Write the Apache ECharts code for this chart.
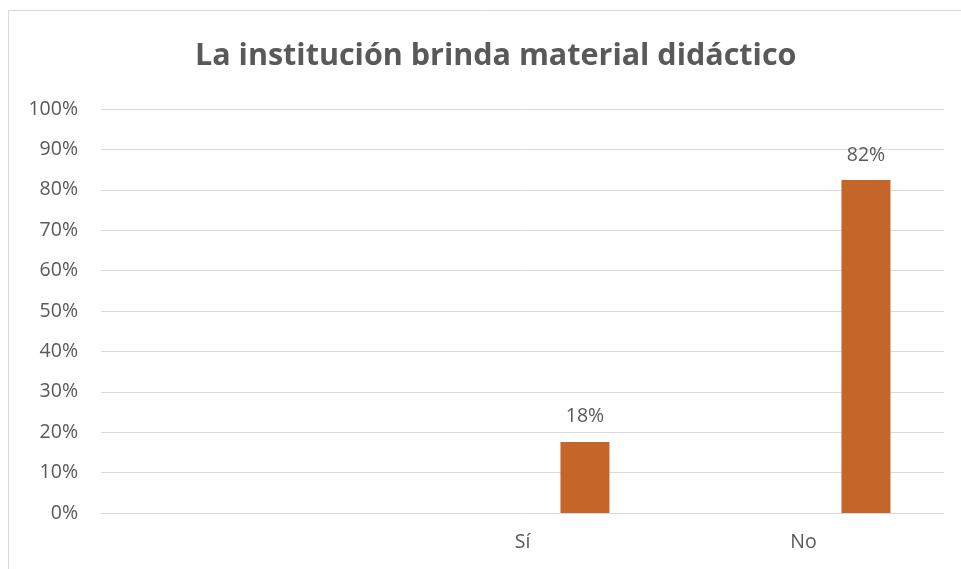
<!DOCTYPE html>
<html>
<head>
<meta charset="utf-8">
<script src="https://cdn.jsdelivr.net/npm/echarts@6/dist/echarts.min.js"></script>
<style>
  html, body { margin: 0; padding: 0; background: #fff; }
  #chart { width: 961px; height: 569px; }
</style>
</head>
<body>
<div id="chart"></div>
<script>
  // empty first slot keeps the bars where the original sheet put them
  const categories = ['', 'Sí', 'No']
  const spacerValues = ['-', '-', '-']
  const percentValues = ['-', 17.6, 82.4]
  const yTicks = [0, 10, 20, 30, 40, 50, 60, 70, 80, 90, 100]

  const textColor = '#595959'
  const font = 'Open Sans'

  const chart = echarts.init(document.getElementById('chart'))
  chart.setOption({
    animation: false,
    title: {
      text: 'La institución brinda material didáctico',
      left: 190,
      top: 36,
      textStyle: {
        fontFamily: font,
        fontSize: 30.5,
        fontWeight: 'bold',
        color: textColor
      }
    },
    graphic: [{
      type: 'rect',
      shape: { x: 8.5, y: 10.5, width: 970, height: 580 },
      style: { fill: 'none', stroke: '#d9d9d9', lineWidth: 1 },
      silent: true
    }],
    grid: {
      left: 101,
      right: 17,
      top: 109,
      bottom: 56
    },
    xAxis: {
      type: 'category',
      data: categories,
      axisLine: { lineStyle: { color: '#d9d9d9' } },
      axisTick: { show: false },
      axisLabel: {
        margin: 19,
        fontFamily: font,
        fontSize: 19.5,
        color: textColor
      }
    },
    yAxis: {
      type: 'value',
      min: yTicks[0],
      max: yTicks[yTicks.length - 1],
      interval: 10,
      axisLine: { show: false },
      axisTick: { show: false },
      splitLine: { lineStyle: { color: '#d9d9d9', width: 1 } },
      axisLabel: {
        margin: 23,
        fontFamily: font,
        fontSize: 19.5,
        color: textColor,
        formatter: v => v + '%'
      }
    },
    series: [
      {
        name: 'spacer',
        type: 'bar',
        barWidth: 49,
        barGap: '155%',
        data: spacerValues
      },
      {
        name: 'porcentaje',
        type: 'bar',
        barWidth: 49,
        barGap: '155%',
        itemStyle: { color: '#c46629' },
        label: {
          show: true,
          position: 'top',
          distance: 15,
          fontFamily: font,
          fontSize: 19.5,
          color: textColor,
          formatter: p => Math.round(p.value) + '%'
        },
        data: percentValues
      }
    ]
  })
</script>
</body>
</html>
